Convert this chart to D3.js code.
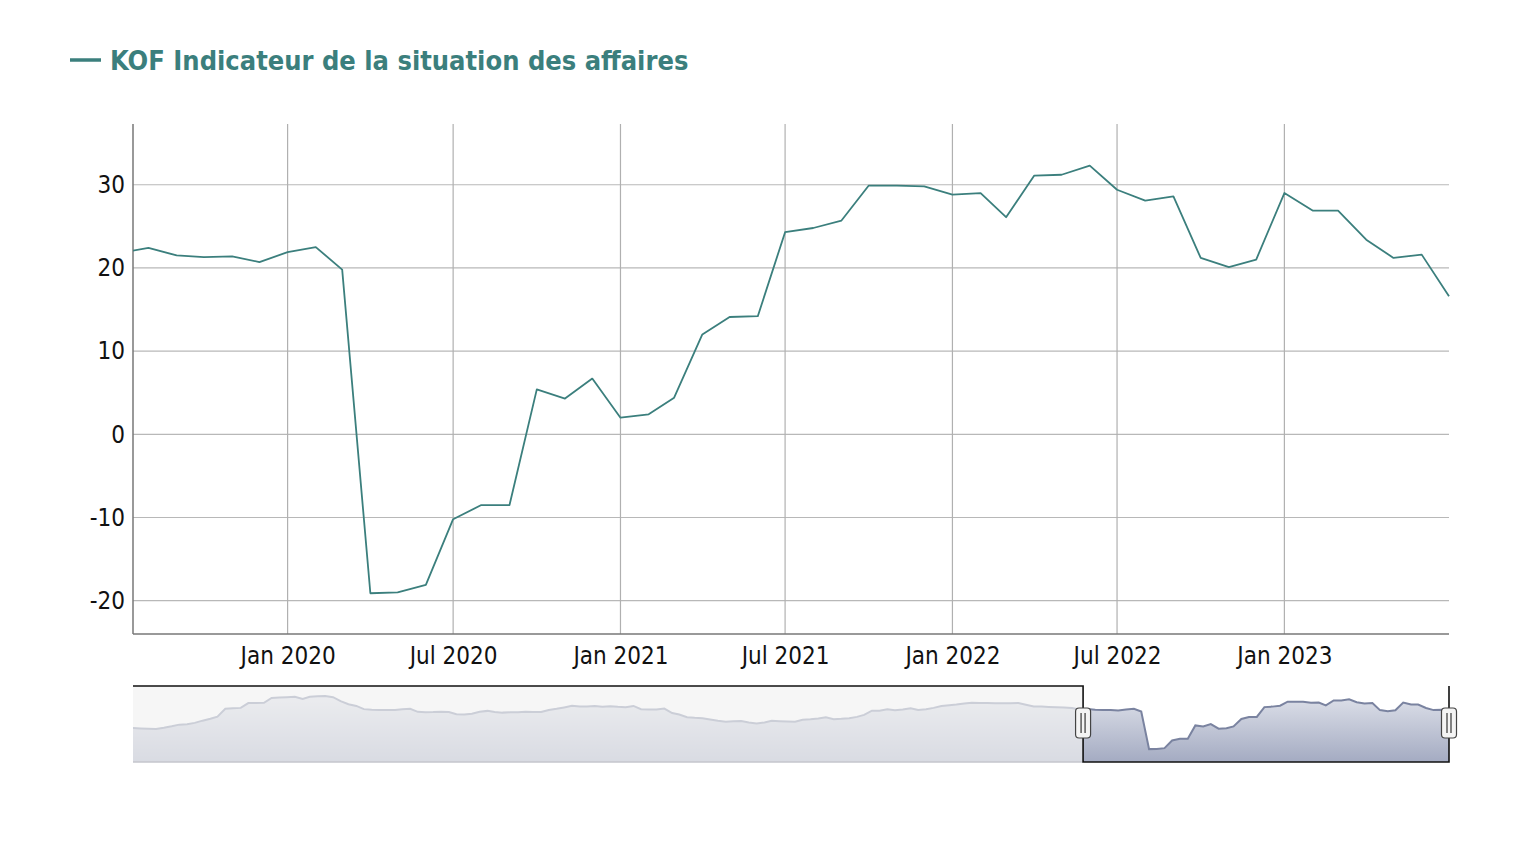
<!DOCTYPE html>
<html>
<head>
<meta charset="utf-8">
<script src="https://cdn.jsdelivr.net/npm/d3@7"></script>
<style>
  html, body { margin: 0; padding: 0; background: #ffffff; }
  svg { display: block; }
  text { font-family: "DejaVu Sans Condensed", "DejaVu Sans", sans-serif; }
</style>
</head>
<body>
<svg id="chart" width="1528" height="856"></svg>
<script>
// ---------------- DATA ----------------
const seriesName = "KOF Indicateur de la situation des affaires";

// Navigator history, monthly from Apr 2009 to Jun 2019 (read from the navigator strip)
const historyStart = "2009-04-01";
const historyValues = [
  2.7, 2.3, 2.0, 1.8, 3.0, 4.5, 6.2, 6.6, 8.0,
  10.3, 12.3, 14.5, 22.5, 23.0, 23.5, 28.5, 28.5, 28.8, 33.7, 34.1, 34.5,
  35.0, 32.6, 35.0, 35.5, 35.8, 34.5, 30.5, 27.3, 25.5, 22.2, 21.5, 21.3,
  21.3, 21.3, 22.0, 22.5, 19.4, 19.0, 19.2, 19.6, 19.3, 17.0, 16.6, 17.5,
  19.5, 20.4, 19.2, 18.6, 18.9, 19.1, 19.4, 19.2, 19.2, 21.4, 22.6, 24.0,
  25.6, 25.0, 24.9, 25.4, 24.6, 25.3, 24.6, 24.2, 25.5, 22.2, 21.7, 21.8,
  22.8, 18.2, 16.6, 13.9, 13.2, 12.7, 11.4, 10.2, 9.3, 9.8, 9.9, 8.3,
  7.5, 8.5, 10.1, 9.8, 9.5, 9.3, 11.2, 11.7, 12.6, 13.8, 11.7, 12.2,
  12.9, 14.2, 16.3, 20.6, 20.6, 22.0, 21.0, 21.8, 23.1, 21.3, 22.0, 23.5,
  25.5, 26.3, 27.0, 28.0, 28.8, 28.6, 28.5, 28.3, 28.2, 28.3, 28.5, 26.8,
  25.0, 24.8, 24.5, 24.2, 23.9, 23.4
];

// Main chart, monthly from Jul 2019 to Jul 2023
const recentStart = "2019-07-01";
const recentValues = [
  21.8, 22.4, 21.5, 21.3, 21.4, 20.7,
  21.9, 22.5, 19.8, -19.1, -19.0, -18.1, -10.2, -8.5, -8.5, 5.4, 4.3, 6.7,
  2.0, 2.4, 4.4, 12.0, 14.1, 14.2, 24.3, 24.8, 25.7, 29.9, 29.9, 29.8,
  28.8, 29.0, 26.1, 31.1, 31.2, 32.3, 29.4, 28.1, 28.6, 21.2, 20.1, 21.0,
  29.0, 26.9, 26.9, 23.4, 21.2, 21.6, 16.6
];

const viewStart = "2019-07-15";   // left edge of the zoomed window
const yTicks = [-20, -10, 0, 10, 20, 30];

// ---------------- BUILD ----------------
const parse = d3.utcParse("%Y-%m-%d");
function monthly(start, values) {
  const s = parse(start);
  return values.map((v, i) => ({ date: d3.utcMonth.offset(s, i), value: v }));
}
const recent = monthly(recentStart, recentValues);
const all = monthly(historyStart, historyValues).concat(recent);

const svg = d3.select("#chart");
const plot = { left: 133, right: 1449, top: 124, bottom: 634 };
const nav = { left: 133, right: 1449, top: 686, bottom: 762 };

const lineColor = "#3b7f7d";
const labelFont = "\"DejaVu Sans Condensed\", sans-serif";

const x = d3.scaleUtc()
  .domain([parse(viewStart), recent[recent.length - 1].date])
  .range([plot.left, plot.right]);
const y = d3.scaleLinear().domain([-24, 37.3]).range([plot.bottom, plot.top]);

// ---- title / legend
svg.append("line")
  .attr("x1", 70).attr("x2", 101).attr("y1", 60).attr("y2", 60)
  .attr("stroke", lineColor).attr("stroke-width", 3.5);
svg.append("text")
  .attr("x", 110).attr("y", 70)
  .attr("fill", lineColor)
  .attr("font-size", 27).attr("font-weight", "bold")
  .text(seriesName);

// ---- gridlines
const xTicks = x.ticks(d3.utcMonth.every(6)).filter(d => d < x.domain()[1]);
const fmt = d3.utcFormat("%b %Y");

svg.append("g").selectAll("line").data(yTicks).join("line")
  .attr("x1", plot.left).attr("x2", plot.right)
  .attr("y1", d => y(d)).attr("y2", d => y(d))
  .attr("stroke", "#b8b8b8").attr("stroke-width", 1.2);

svg.append("g").selectAll("line").data(xTicks).join("line")
  .attr("x1", d => x(d)).attr("x2", d => x(d))
  .attr("y1", plot.top).attr("y2", plot.bottom)
  .attr("stroke", "#b0b0b0").attr("stroke-width", 1.2);

// ---- axes
const yAxis = d3.axisLeft(y).tickValues(yTicks).tickFormat(d => String(d))
  .tickSize(0).tickPadding(8);
const gy = svg.append("g").attr("transform", `translate(${plot.left},0)`).call(yAxis);
gy.select(".domain").remove();
gy.selectAll("text").attr("font-size", 24).attr("fill", "#111")
  .attr("font-family", labelFont);

const xAxis = d3.axisBottom(x).tickValues(xTicks).tickFormat(fmt).tickSize(0).tickPadding(13);
const gx = svg.append("g").attr("transform", `translate(0,${plot.bottom})`).call(xAxis);
gx.select(".domain").remove();
gx.selectAll("text").attr("font-size", 24).attr("fill", "#111")
  .attr("font-family", labelFont);

svg.append("line").attr("x1", plot.left).attr("x2", plot.left)
  .attr("y1", plot.top).attr("y2", plot.bottom)
  .attr("stroke", "#777").attr("stroke-width", 1.5);
svg.append("line").attr("x1", plot.left).attr("x2", plot.right)
  .attr("y1", plot.bottom).attr("y2", plot.bottom)
  .attr("stroke", "#777").attr("stroke-width", 1.5);

// ---- main line
svg.append("clipPath").attr("id", "plotClip").append("rect")
  .attr("x", plot.left).attr("y", plot.top - 5)
  .attr("width", plot.right - plot.left + 1).attr("height", plot.bottom - plot.top + 5);

const line = d3.line().x(d => x(d.date)).y(d => y(d.value));
svg.append("path")
  .datum(recent)
  .attr("clip-path", "url(#plotClip)")
  .attr("fill", "none")
  .attr("stroke", lineColor)
  .attr("stroke-width", 1.8)
  .attr("stroke-linejoin", "round")
  .attr("d", line);

// ---------------- NAVIGATOR ----------------
const nx = d3.scaleUtc()
  .domain([all[0].date, all[all.length - 1].date])
  .range([nav.left, nav.right]);
const ny = d3.scaleLinear().domain([-32.4, 46.1]).range([nav.bottom, nav.top]);

const defs = svg.append("defs");
const grad = defs.append("linearGradient").attr("id", "navFill")
  .attr("x1", 0).attr("x2", 0).attr("y1", 0).attr("y2", 1);
grad.append("stop").attr("offset", "0%").attr("stop-color", "#dde0e9");
grad.append("stop").attr("offset", "100%").attr("stop-color", "#a4abc2");

const area = d3.area().x(d => nx(d.date)).y0(nav.bottom).y1(d => ny(d.value));
const nline = d3.line().x(d => nx(d.date)).y(d => ny(d.value));

svg.append("path").datum(all)
  .attr("fill", "url(#navFill)").attr("d", area);
svg.append("path").datum(all)
  .attr("fill", "none").attr("stroke", "#7a83a0").attr("stroke-width", 2)
  .attr("d", nline);

const selL = nx(x.domain()[0]);
const selR = nx(x.domain()[1]);

// mask over unselected part
svg.append("rect")
  .attr("x", nav.left).attr("y", nav.top)
  .attr("width", selL - nav.left).attr("height", nav.bottom - nav.top)
  .attr("fill", "rgb(242,242,242)").attr("fill-opacity", 0.68);
svg.append("line")
  .attr("x1", nav.left).attr("x2", selL).attr("y1", nav.bottom).attr("y2", nav.bottom)
  .attr("stroke", "#c4c6cc").attr("stroke-width", 1.5);

// outline
svg.append("path")
  .attr("fill", "none").attr("stroke", "#111").attr("stroke-width", 1.6)
  .attr("d", `M${nav.left},${nav.top}H${selL}V${nav.bottom}H${selR}V${nav.top}`);

// handles
[selL, selR].forEach(hx => {
  const g = svg.append("g").attr("transform", `translate(${hx},${(nav.top + nav.bottom) / 2 - 1})`);
  g.append("rect").attr("x", -7.5).attr("y", -15).attr("width", 15).attr("height", 30)
    .attr("rx", 3.5).attr("fill", "#f4f4f4").attr("stroke", "#444").attr("stroke-width", 1.2);
  g.append("line").attr("x1", -2).attr("x2", -2).attr("y1", -10).attr("y2", 10)
    .attr("stroke", "#444").attr("stroke-width", 1.3);
  g.append("line").attr("x1", 2).attr("x2", 2).attr("y1", -10).attr("y2", 10)
    .attr("stroke", "#444").attr("stroke-width", 1.3);
});
</script>
</body>
</html>
